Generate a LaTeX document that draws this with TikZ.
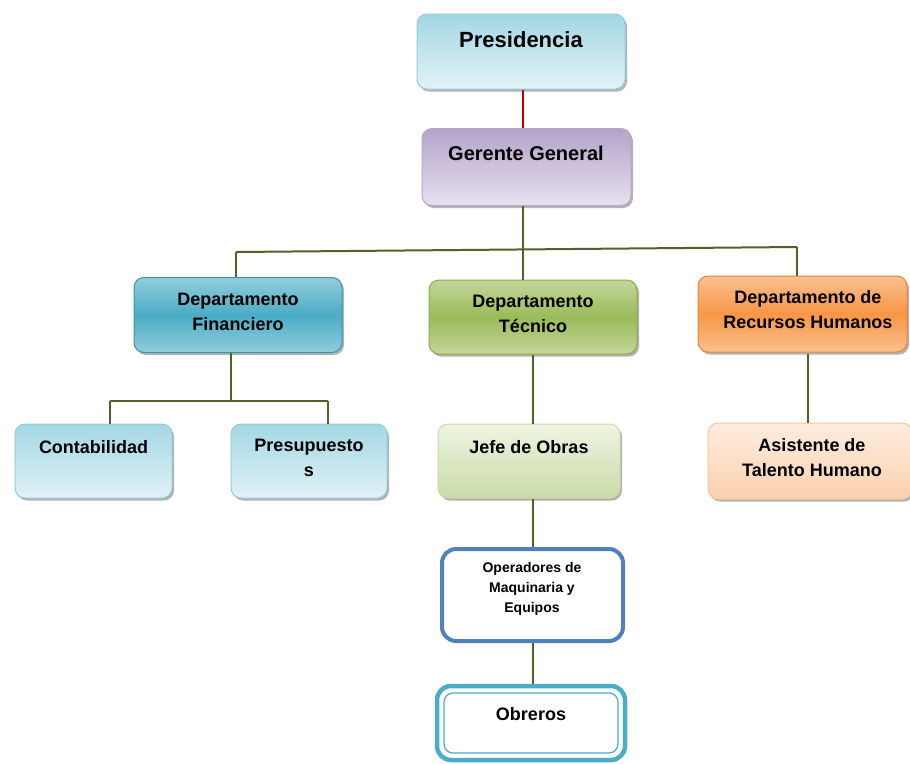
\documentclass[tikz,border=0pt]{standalone}
\usepackage{fontspec}
\setmainfont{Liberation Sans}
\usetikzlibrary{shadows}
\definecolor{lineG}{HTML}{4F6228}
\definecolor{lineR}{HTML}{C00000}
\definecolor{cyanD}{HTML}{A3D7E4}
\definecolor{cyanL}{HTML}{E2F2F6}
\definecolor{cyanB}{HTML}{93CDDD}
\definecolor{purD}{HTML}{B4A3C9}
\definecolor{purL}{HTML}{E7E1EE}
\definecolor{purB}{HTML}{B8A6CC}
\definecolor{tealM}{HTML}{4BACC6}
\definecolor{tealL}{HTML}{92CDDC}
\definecolor{tealB}{HTML}{3D93AB}
\definecolor{grnM}{HTML}{9BBB59}
\definecolor{grnL}{HTML}{C3D69B}
\definecolor{grnB}{HTML}{8AAB4C}
\definecolor{orM}{HTML}{F79646}
\definecolor{orL}{HTML}{FAC090}
\definecolor{orB}{HTML}{E9843A}
\definecolor{jgD}{HTML}{CADBA8}
\definecolor{jgL}{HTML}{EEF4E2}
\definecolor{pcD}{HTML}{FBD0AE}
\definecolor{pcL}{HTML}{FEEDE0}
\definecolor{pcB}{HTML}{FAC59B}
\definecolor{opB}{HTML}{4F81BD}
\begin{document}
\begin{tikzpicture}[x=1pt,y=-1pt,
  box/.style={rounded corners=10pt, inner sep=0pt, line width=1pt,
    drop shadow={shadow xshift=2pt, shadow yshift=-2.5pt, fill=black, opacity=0.3}},
  lbl/.style={font=\bfseries, align=center, inner sep=0pt},
  conn/.style={draw=lineG, line width=2.5pt},
  lightcyan/.style={box, draw=cyanB, top color=cyanD, bottom color=cyanL},
]
\useasboundingbox (0,0) rectangle (910,763);

% connectors first (behind boxes)
\coordinate (busL) at (236,252);
\coordinate (busM) at (523,249.5);
\coordinate (busR) at (797,247);
\coordinate (fbus) at (231,401);
\coordinate (fbL) at (110,401);
\coordinate (fbR) at (328,401);

% boxes
\node[lightcyan, minimum width=208pt, minimum height=75pt] (pres) at (521,51.5) {};
\node[box, draw=purB, top color=purD, bottom color=purL, minimum width=209pt, minimum height=77pt] (ger) at (526.5,167) {};
\node[box, draw=tealB, top color=tealL, bottom color=tealL, middle color=tealM, minimum width=208pt, minimum height=75pt] (fin) at (238,315) {};
\node[box, draw=grnB, top color=grnL, bottom color=grnL, middle color=grnM, minimum width=208pt, minimum height=74pt] (tec) at (533,317) {};
\node[box, draw=orB, top color=orL, bottom color=orL, middle color=orM, minimum width=209pt, minimum height=76pt] (rh) at (802.5,314) {};
\node[lightcyan, minimum width=157pt, minimum height=74pt] (cont) at (93.5,461) {};
\node[lightcyan, minimum width=156pt, minimum height=74pt] (pres2) at (309,461) {};
\node[box, draw=jgD, top color=jgL, bottom color=jgD, minimum width=182pt, minimum height=74pt] (jefe) at (529,461) {};
\node[box, draw=pcB, top color=pcL, bottom color=pcD, minimum width=204pt, minimum height=76pt] (asis) at (810,461) {};
\node[draw=opB, line width=4pt, rounded corners=14pt, fill=white, minimum width=181pt, minimum height=92pt, inner sep=0pt] (oper) at (532.5,595) {};
\node[draw=tealM, line width=4.5pt, rounded corners=14pt, fill=white, minimum width=188pt, minimum height=74pt, inner sep=0pt] (obr) at (531,723) {};
\node[draw=tealM, line width=1.2pt, rounded corners=9pt, minimum width=174pt, minimum height=60pt, inner sep=0pt] (obrIn) at (531,723) {};

% connectors
\draw[draw=lineR, line width=1.2pt] (pres.south -| 523,0) -- (ger.north -| 523,0);
\draw[conn] (ger.south -| busM) -- (tec.north -| busM);
\draw[draw=lineG, line width=2pt] (busL) -- (busR);
\draw[conn] (busL) -- (busL |- fin.north);
\draw[conn] (busR) -- (busR |- rh.north);
\draw[conn] (fin.south -| fbus) -- (fbus);
\draw[draw=lineG, line width=2pt] (fbL) -- (fbR);
\draw[conn] (fbL) -- (fbL |- cont.north);
\draw[conn] (fbR) -- (fbR |- pres2.north);
\draw[conn] (tec.south) -- (tec.south |- jefe.north);
\draw[conn] (jefe.south -| tec.south) -- (oper.north -| tec.south);
\draw[conn] (oper.south -| tec.south) -- (obr.north -| tec.south);
\draw[conn] (808,354) -- (asis.north -| 808,0);

% labels
\node[lbl, font=\bfseries\fontsize{22}{26}\selectfont] (tPres) at (521,40) {Presidencia};
\node[lbl, font=\bfseries\fontsize{20}{24}\selectfont] (tGer) at (526,153) {Gerente General};
\node[lbl, font=\bfseries\fontsize{18}{25}\selectfont] (tFin) at (238,312) {Departamento\\Financiero};
\node[lbl, font=\bfseries\fontsize{18}{25}\selectfont] (tTec) at (533,314) {Departamento\\Técnico};
\node[lbl, font=\bfseries\fontsize{18}{25}\selectfont] (tRh) at (808,310) {Departamento de\\Recursos Humanos};
\node[lbl, font=\bfseries\fontsize{18}{25}\selectfont] (tCont) at (93.5,447) {Contabilidad};
\node[lbl, font=\bfseries\fontsize{18}{25}\selectfont] (tPres2) at (309,458) {Presupuesto\\s};
\node[lbl, font=\bfseries\fontsize{18}{25}\selectfont] (tJefe) at (529,447) {Jefe de Obras};
\node[lbl, font=\bfseries\fontsize{18}{25}\selectfont] (tAsis) at (812,458) {Asistente de\\Talento Humano};
\node[lbl, font=\bfseries\fontsize{14}{20}\selectfont] (tOper) at (532,589) {Operadores de\\Maquinaria y\\Equipos};
\node[lbl, font=\bfseries\fontsize{18}{25}\selectfont] (tObr) at (531,714) {Obreros};
\end{tikzpicture}
\end{document}
